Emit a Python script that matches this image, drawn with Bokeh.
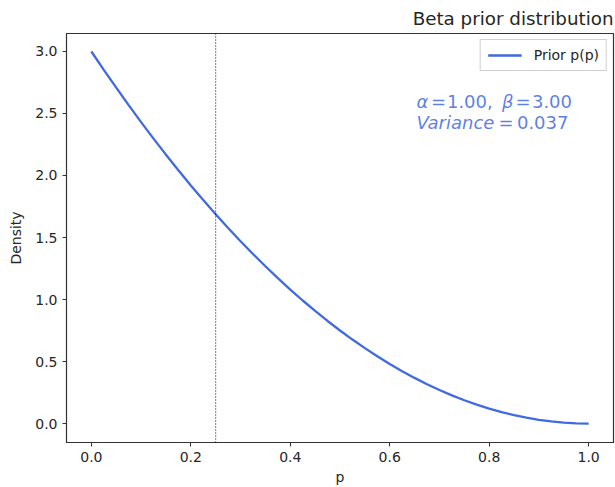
from bokeh.plotting import figure
from bokeh.models import Span, Label, Range1d, Legend, LegendItem, NumeralTickFormatter
from bokeh.embed import file_html
from bokeh.resources import INLINE

p_vals = [0.0, 0.025, 0.05, 0.075, 0.10, 0.125, 0.15, 0.175, 0.20, 0.225, 0.25,
          0.275, 0.30, 0.325, 0.35, 0.375, 0.40, 0.425, 0.45, 0.475, 0.50,
          0.525, 0.55, 0.575, 0.60, 0.625, 0.65, 0.675, 0.70, 0.725, 0.75,
          0.775, 0.80, 0.825, 0.85, 0.875, 0.90, 0.925, 0.95, 0.975, 1.0]
density = [3.000, 2.852, 2.708, 2.567, 2.430, 2.297, 2.168, 2.042, 1.920, 1.802, 1.688,
           1.577, 1.470, 1.367, 1.268, 1.172, 1.080, 0.992, 0.908, 0.827, 0.750,
           0.677, 0.608, 0.542, 0.480, 0.422, 0.368, 0.317, 0.270, 0.227, 0.188,
           0.152, 0.120, 0.092, 0.068, 0.047, 0.030, 0.017, 0.008, 0.002, 0.000]
mean_p = 0.25
x_ticks = [0.0, 0.2, 0.4, 0.6, 0.8, 1.0]
y_ticks = [0.0, 0.5, 1.0, 1.5, 2.0, 2.5, 3.0]
FONT = "DejaVu Sans"
BLUE = "#4169E1"
DARK = "#262626"

p = figure(width=615, height=487, output_backend="svg", toolbar_location=None,
           x_range=Range1d(-0.05, 1.05), y_range=Range1d(-0.153, 3.145),
           min_border_left=66, min_border_right=2, min_border_top=33, min_border_bottom=45)

p.title.text = "Beta prior distribution"
p.title.align = "right"
p.title.text_font = FONT
p.title.text_font_size = "18.3px"
p.title.text_font_style = "normal"
p.title.text_color = DARK

p.xgrid.visible = False
p.ygrid.visible = False
p.outline_line_color = "#333333"
p.outline_line_width = 1.2

for ax, ticks, lab in ((p.xaxis, x_ticks, "p"), (p.yaxis, y_ticks, "Density")):
    ax.ticker = ticks
    ax.formatter = NumeralTickFormatter(format="0.0")
    ax.axis_label = lab
    ax.axis_label_text_font = FONT
    ax.axis_label_text_font_size = "14px"
    ax.axis_label_text_font_style = "normal"
    ax.axis_label_text_color = DARK
    ax.major_label_text_font = FONT
    ax.major_label_text_font_size = "14px"
    ax.major_label_text_color = DARK
    ax.minor_tick_line_color = None
    ax.major_tick_out = 4
    ax.major_tick_in = 0
    ax.major_label_standoff = 5
    ax.axis_line_color = "#333333"
    ax.major_tick_line_color = "#333333"
p.xaxis.axis_label_standoff = 4
p.yaxis.axis_label_standoff = 8

line = p.line(p_vals, density, line_color=BLUE, line_width=2.3)

p.add_layout(Span(location=mean_p, dimension="height", line_color="black",
                  line_width=1, line_dash="1 2"))

legend = Legend(items=[LegendItem(label="Prior p(p)", renderers=[line])],
                location="top_right", label_text_font=FONT, label_text_font_size="14px",
                label_text_color=DARK,
                border_line_color="#d0d0d0", border_line_alpha=1.0,
                glyph_width=34, glyph_height=14, label_height=14,
                padding=7, margin=6, label_standoff=12, spacing=0)
p.add_layout(legend)

tc = BLUE
sz = "18px"
xa = 0.6537
line1 = [("α", 0, "italic"), ("=", 14.5, "normal"), ("1.00,", 30.5, "normal"),
         ("β", 85.5, "italic"), ("=", 99, "normal"), ("3.00", 115.5, "normal")]
line2 = [("Variance", 0, "italic"), ("=", 82, "normal"), ("0.037", 100.5, "normal")]
for yv, toks in ((2.596, line1), (2.425, line2)):
    for txt, off, style in toks:
        p.add_layout(Label(x=xa, y=yv, x_offset=off, text=txt, text_font=FONT,
                           text_font_size=sz, text_font_style=style, text_color=tc,
                           text_alpha=0.85, text_baseline="alphabetic"))

open("out.html", "w").write(file_html(p, INLINE))
